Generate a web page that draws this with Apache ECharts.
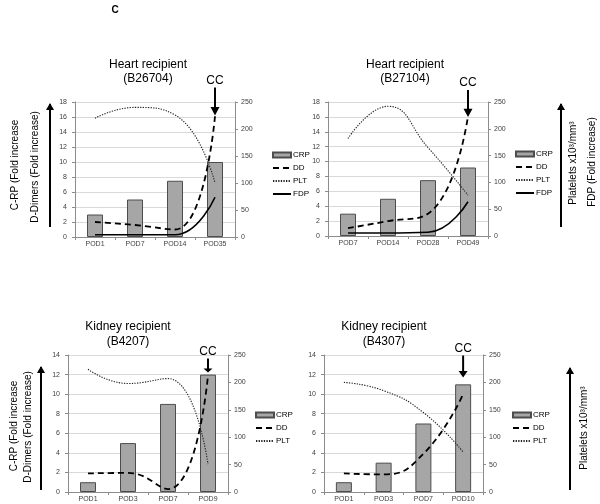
<!DOCTYPE html>
<html><head><meta charset="utf-8">
<script src="https://cdn.jsdelivr.net/npm/echarts@6/dist/echarts.min.js"></script>
<style>html,body{margin:0;padding:0;background:#fff}#c{width:600px;height:504px}</style>
</head><body><div id="c"></div>
<script>
// ---- data ----
const heart1Cats = ['POD1', 'POD7', 'POD14', 'POD35'];
const heart1CRP = [3, 5, 7.5, 10];
const heart1DD = [2.0, 1.6, 1.0, 16.1];
const heart1PLT = [220, 240, 226, 100];
const heart1FDP = [0.3, 0.3, 0.3, 5.3];

const heart2Cats = ['POD7', 'POD14', 'POD28', 'POD49'];
const heart2CRP = [3, 5, 7.5, 9.2];
const heart2DD = [1.05, 2.0, 3.0, 16.1];
const heart2PLT = [182, 242, 165, 76];
const heart2FDP = [0.4, 0.4, 0.5, 4.6];

const kidney1Cats = ['POD1', 'POD3', 'POD7', 'POD9'];
const kidney1CRP = [1, 5, 9, 12];
const kidney1DD = [1.9, 1.95, 0.3, 11.9];
const kidney1PLT = [224, 198, 207, 51];

const kidney2Cats = ['POD1', 'POD3', 'POD7', 'POD10'];
const kidney2CRP = [1, 3, 7, 11];
const kidney2DD = [1.9, 1.8, 3.9, 10.0];
const kidney2PLT = [200, 185, 145, 73];

const heartLeftMax = 18;
const kidneyLeftMax = 14;
const leftInterval = 2;
const rightMax = 250;
const rightInterval = 50;
// CC annotation targets (left-axis units at last time point)
const ccTargets = [16.2, 16.0, 12.2, 11.7];

const panelTitles = [
  ['Heart recipient', '(B26704)'],
  ['Heart recipient', '(B27104)'],
  ['Kidney recipient', '(B4207)'],
  ['Kidney recipient', '(B4307)']
];

// ---- layout ----
const FONT = 'Liberation Sans, Arial, sans-serif';
const panels = [
  { cats: heart1Cats, crp: heart1CRP, dd: heart1DD, plt: heart1PLT, fdp: heart1FDP, leftMax: heartLeftMax,
    grid: { left: 75, top: 102, width: 160, height: 135 }, legend: { left: 272, top: 151 }, ccLen: 28 },
  { cats: heart2Cats, crp: heart2CRP, dd: heart2DD, plt: heart2PLT, fdp: heart2FDP, leftMax: heartLeftMax,
    grid: { left: 328, top: 102, width: 160, height: 134 }, legend: { left: 515, top: 150 }, ccLen: 27 },
  { cats: kidney1Cats, crp: kidney1CRP, dd: kidney1DD, plt: kidney1PLT, fdp: null, leftMax: kidneyLeftMax,
    grid: { left: 68, top: 355, width: 160, height: 137 }, legend: { left: 255, top: 411 }, ccLen: 14 },
  { cats: kidney2Cats, crp: kidney2CRP, dd: kidney2DD, plt: kidney2PLT, fdp: null, leftMax: kidneyLeftMax,
    grid: { left: 324, top: 355, width: 159, height: 137 }, legend: { left: 512, top: 411 }, ccLen: 22 }
];

const axisGray = '#8c8c8c';
const labelStyle = { fontSize: 7, color: '#404040', fontFamily: FONT };

const grid = [], xAxis = [], yAxis = [], series = [], legend = [];
panels.forEach((p, i) => {
  grid.push(Object.assign({ containLabel: false }, p.grid));
  xAxis.push({
    type: 'category', gridIndex: i, data: p.cats,
    axisLine: { lineStyle: { color: axisGray, width: 1 } },
    axisTick: { show: true, length: 3, lineStyle: { color: axisGray } },
    axisLabel: Object.assign({ margin: 4 }, labelStyle),
    splitLine: { show: false }
  });
  yAxis.push({
    type: 'value', gridIndex: i, min: 0, max: p.leftMax, interval: leftInterval, position: 'left',
    axisLine: { show: true, lineStyle: { color: axisGray } },
    axisTick: { show: true, length: 3, lineStyle: { color: axisGray } },
    axisLabel: Object.assign({ margin: 8 }, labelStyle),
    splitLine: { show: true, lineStyle: { color: '#d9d9d9', width: 1 } }
  });
  yAxis.push({
    type: 'value', gridIndex: i, min: 0, max: rightMax, interval: rightInterval, position: 'right',
    axisLine: { show: true, lineStyle: { color: axisGray } },
    axisTick: { show: true, length: 3, lineStyle: { color: axisGray } },
    axisLabel: Object.assign({ margin: 6 }, labelStyle),
    splitLine: { show: false }
  });
  series.push({
    name: 'CRP', type: 'bar', xAxisIndex: i, yAxisIndex: 2 * i, data: p.crp, barWidth: 16,
    itemStyle: { color: '#a6a6a6', borderColor: '#4d4d4d', borderWidth: 1 },
    z: 2,
    markPoint: {
      symbol: 'path://M3.9,0 L6.1,0 L6.1,21 L10,21 L5,30 L0,21 L3.9,21 Z',
      symbolSize: [9, p.ccLen], symbolKeepAspect: false, symbolOffset: [0, '-50%'],
      itemStyle: { color: '#000' },
      label: { show: true, position: 'top', distance: 1, formatter: 'CC', color: '#000', fontSize: 12, fontFamily: FONT },
      data: [{ coord: [p.cats[p.cats.length - 1], ccTargets[i]] }]
    }
  });
  series.push({
    name: 'DD', type: 'line', xAxisIndex: i, yAxisIndex: 2 * i, data: p.dd, smooth: true,
    symbol: 'none', z: 4,
    lineStyle: { color: '#000', width: 1.8, type: [6, 4] }, itemStyle: { color: '#000' }
  });
  series.push({
    name: 'PLT', type: 'line', xAxisIndex: i, yAxisIndex: 2 * i + 1, data: p.plt, smooth: true,
    symbol: 'none', z: 4,
    lineStyle: { color: '#222', width: 1.1, type: [1.3, 1.3] }, itemStyle: { color: '#222' }
  });
  const hideSym = { opacity: 0 };
  const names = [{ name: 'CRP', icon: 'rect' }, { name: 'DD', itemStyle: hideSym }, { name: 'PLT', itemStyle: hideSym }];
  if (p.fdp) {
    series.push({
      name: 'FDP', type: 'line', xAxisIndex: i, yAxisIndex: 2 * i, data: p.fdp, smooth: true,
      symbol: 'none', z: 4,
      lineStyle: { color: '#000', width: 1.6, type: 'solid' }, itemStyle: { color: '#000' }
    });
    names.push({ name: 'FDP', itemStyle: hideSym });
  }
  legend.push({
    data: names, orient: 'vertical', left: p.legend.left, top: p.legend.top, padding: 0,
    itemWidth: 18, itemHeight: 5, itemGap: 5, selectedMode: false,
    textStyle: { fontSize: 8, color: '#000', fontFamily: FONT, lineHeight: 8, padding: [0, 0, 0, -3] }
  });
});

function txt(x, y, text, size, rot, extra) {
  return Object.assign({
    type: 'text', x: x, y: y, rotation: rot || 0, silent: true,
    style: { text: text, fontSize: size, fontFamily: FONT, fill: '#000', align: 'center', verticalAlign: 'middle' }
  }, extra || {});
}
function upArrow(x, yTop, yBottom) {
  return [
    { type: 'line', silent: true, shape: { x1: x, y1: yBottom, x2: x, y2: yTop + 1 }, style: { stroke: '#000', lineWidth: 2 } },
    { type: 'polygon', silent: true, shape: { points: [[x - 4, yTop + 7], [x, yTop], [x + 4, yTop + 7]] }, style: { fill: '#000' } }
  ];
}
const R = Math.PI / 2;
const graphic = [
  { type: 'text', x: 115, y: 10, silent: true, style: { text: 'C', fontSize: 10, fontWeight: 'bold', fontFamily: FONT, fill: '#000', align: 'center', verticalAlign: 'middle' } },
  txt(148, 65, panelTitles[0][0], 12), txt(148, 78.5, panelTitles[0][1], 12),
  txt(405, 65, panelTitles[1][0], 12), txt(405, 78.5, panelTitles[1][1], 12),
  txt(128, 327, panelTitles[2][0], 12), txt(128, 342, panelTitles[2][1], 12),
  txt(384, 327, panelTitles[3][0], 12), txt(384, 342, panelTitles[3][1], 12),
  txt(15, 165, 'C-RP (Fold increase', 10, R),
  txt(35, 167, 'D-Dimers (Fold increase)', 10, R),
  ...upArrow(50, 103, 227),
  txt(573, 163, 'Platelets x10³/mm³', 10, R),
  txt(592, 162, 'FDP (Fold increase)', 10, R),
  ...upArrow(561, 103, 227),
  txt(14, 426, 'C-RP (Fold increase', 10, R),
  txt(28, 427, 'D-Dimers (Fold increase)', 10, R),
  ...upArrow(41, 366, 490),
  txt(584, 428, 'Platelets x10³/mm³', 10, R),
  ...upArrow(570, 367, 490)
];

const chart = echarts.init(document.getElementById('c'), null, { renderer: 'canvas' });
chart.setOption({
  animation: false,
  backgroundColor: '#fff',
  textStyle: { fontFamily: FONT },
  grid: grid, xAxis: xAxis, yAxis: yAxis, series: series, legend: legend, graphic: graphic
});
</script></body></html>
